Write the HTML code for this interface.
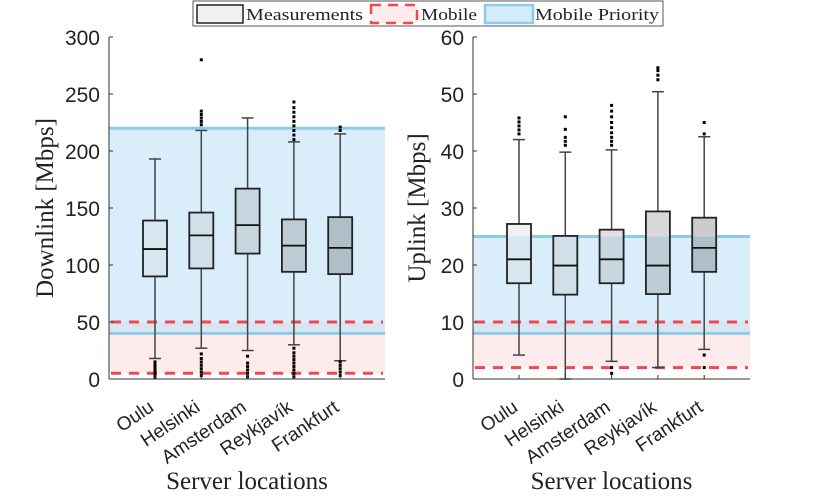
<!DOCTYPE html>
<html><head><meta charset="utf-8"><style>body{margin:0;background:#fff}svg{display:block}</style></head>
<body>
<svg id="c" width="830" height="502" xmlns="http://www.w3.org/2000/svg" font-family="Liberation Sans, sans-serif"></svg>
<script>
const categories=["Oulu","Helsinki","Amsterdam","Reykjavík","Frankfurt"];
const dlStats=[[18,90,114,139,193],[27,97,126,146,218],[25,110,135,167,229],[30,94,117,140,208],[16,92,115,142,215]];
const dlOutliers=[[1,3,5,7,9,11,13,15],[3,6,9,12,15,18,22,223,226,229,232,235,280],[2,5,8,11,14,20],[2,5,8,11,14,17,20,23,27,210,214,218,222,226,230,234,238,243],[3,6,9,12,15,218,221]];
const ulStats=[[4.2,16.8,21,27.2,42],[0,14.8,19.9,25.1,39.8],[3.1,16.8,21,26.2,40.2],[2,14.9,19.9,29.4,50.4],[5.2,18.8,23,28.3,42.5]];
const ulOutliers=[[43,43.7,44.4,45.1,45.8],[41,41.7,42.4,43.8,46],[1,2,41,41.7,42.4,43.2,44.1,45,46,47,48],[52.5,53.3,54.1,54.6],[2,4.2,43,45]];
const dlTicks=[0,50,100,150,200,250,300];
const ulTicks=[0,10,20,30,40,50,60];
const dlBands={mobile:[5,50],priority:[40,220]};
const ulBands={mobile:[2,10],priority:[8,25]};
const boxFills=["#d6e7f0","#cfe0e9","#c6d7e0","#bccdd6","#aebfc8"];
const boxFillsTop=["#f0f0f0","#e8e8e8","#e0e0e0","#d8d8d8","#cccccc"];
const svg=document.getElementById('c');
const NS="http://www.w3.org/2000/svg";
function mk(tag,attrs,parent){const e=document.createElementNS(NS,tag);for(const k in attrs)e.setAttribute(k,attrs[k]);(parent||svg).appendChild(e);return e;}
function panel(x0,x1,ymax,stats,outs,ticks,bands,title,key,titleOff){
  const yT=37,yB=379;
  const y=v=>yB-(v/ymax)*(yB-yT);
  const xs=i=>x0+46+i*46.3;
  const g=mk('g',{});
  
  
  let r=mk('rect',{x:x0,y:y(bands.mobile[1]),width:x1-x0,height:y(bands.mobile[0])-y(bands.mobile[1]),fill:'#fdeceb'},g);
  
  r=mk('rect',{x:x0,y:y(bands.priority[1]),width:x1-x0,height:y(bands.priority[0])-y(bands.priority[1]),fill:'#bfe3f7','fill-opacity':0.6},g);
  
  bands.priority.forEach(v=>{const l=mk('line',{x1:x0,x2:x1,y1:y(v),y2:y(v),stroke:'#8fcbe8','stroke-width':3},g);});
  bands.mobile.forEach(v=>{const l=mk('line',{x1:x0+2,x2:x1-2,y1:y(v),y2:y(v),stroke:'#f0484e','stroke-width':3,'stroke-dasharray':'10,8'},g);});
  stats.forEach((s,i)=>{
    const cx=xs(i),hw=12;
    const bg=mk('g',{},g);
    mk('line',{x1:cx,x2:cx,y1:y(s[0]),y2:y(s[4]),stroke:'#444','stroke-width':1.5},bg);
    [s[0],s[4]].forEach(v=>mk('line',{x1:cx-6,x2:cx+6,y1:y(v),y2:y(v),stroke:'#444','stroke-width':1.5},bg));
    if(s[3]>bands.priority[1]) mk('rect',{x:cx-hw,y:y(s[3]),width:2*hw,height:y(bands.priority[1])-y(s[3]),fill:boxFillsTop[i]},bg);
    const bt=Math.min(s[3],bands.priority[1]);
    mk('rect',{x:cx-hw,y:y(bt),width:2*hw,height:y(s[1])-y(bt),fill:boxFills[i]},bg);
    mk('rect',{x:cx-hw,y:y(s[3]),width:2*hw,height:y(s[1])-y(s[3]),fill:'none',stroke:'#222','stroke-width':1.8},bg);
    mk('line',{x1:cx-hw,x2:cx+hw,y1:y(s[2]),y2:y(s[2]),stroke:'#111','stroke-width':1.8},bg);
    outs[i].forEach(v=>{const o=mk('rect',{x:cx-1.5,y:y(v)-1.5,width:3,height:3,fill:'#000'},bg);});
    const tx=cx,ty=410;
    const t=mk('text',{x:tx,y:ty,'font-size':19,fill:'#222','text-anchor':'end',transform:`rotate(-34 ${tx} ${ty})`},g);
    t.textContent=categories[i];
  });
  mk('line',{x1:x0,x2:x0,y1:yT,y2:yB,stroke:'#333','stroke-width':1},g);
  mk('line',{x1:x0,x2:x1,y1:yB,y2:yB,stroke:'#333','stroke-width':1},g);
  ticks.forEach(v=>{
    mk('line',{x1:x0,x2:x0+4,y1:y(v),y2:y(v),stroke:'#333'},g);
    const t=mk('text',{x:x0-9,y:y(v)+8,'font-size':21,fill:'#222','text-anchor':'end'},g);
    t.textContent=v;
  });
  stats.forEach((s,i)=>mk('line',{x1:xs(i),x2:xs(i),y1:yB,y2:yB-4,stroke:'#333'},g));
  const yt=mk('text',{x:0,y:0,'font-size':25,'font-family':'Liberation Serif, serif',fill:'#222','text-anchor':'middle',transform:`translate(${x0-titleOff},${(yT+yB)/2}) rotate(-90)`},g);
  yt.textContent=title;
  const xt=mk('text',{x:(x0+x1)/2,y:489,'font-size':25,'font-family':'Liberation Serif, serif',fill:'#222','text-anchor':'middle'},g);
  xt.textContent='Server locations';
}
panel(109,385,300,dlStats,dlOutliers,dlTicks,dlBands,'Downlink [Mbps]','downlink',56);
panel(473,750,60,ulStats,ulOutliers,ulTicks,ulBands,'Uplink [Mbps]','uplink',48);
const lg=mk('g',{});


mk('rect',{x:193,y:1,width:470,height:25,fill:'#fff',stroke:'#555'},lg);
mk('rect',{x:197,y:5,width:46,height:18,fill:'#f0f0f0',stroke:'#222','stroke-width':1.5},lg);
mk('rect',{x:371,y:5,width:46,height:18,fill:'#fdeceb',stroke:'#f0484e','stroke-width':2.5,'stroke-dasharray':'10,7'},lg);
mk('rect',{x:485,y:5,width:48,height:18,fill:'#d3ecf8',stroke:'#8fcbe8','stroke-width':2.5},lg);
[["Measurements",246,'legend-entry-measurements',117],["Mobile",421,'legend-entry-mobile',56],["Mobile Priority",535,'legend-entry-mobile-priority',124]].forEach(a=>{
  const t=mk('text',{x:a[1],y:20,'font-size':17,'font-family':'Liberation Serif, serif',fill:'#222',textLength:a[3],lengthAdjust:'spacingAndGlyphs'},lg);
  t.textContent=a[0];
  
  
});
</script>
</body></html>
